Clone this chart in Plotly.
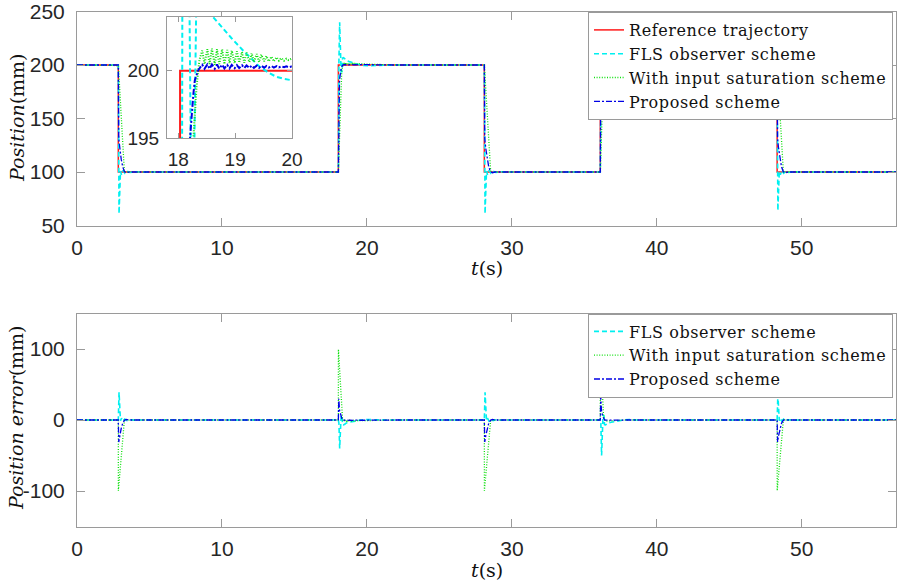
import plotly.graph_objects as go

W, H = 905, 583

# ---------------- data ----------------
# reference trajectory: step times and levels (held until next time)
ref_t = [0, 2.85, 18.03, 28.1, 36.1, 48.3, 56.5]
ref_y = [200, 100, 200, 100, 200, 100, 100]

# FLS observer scheme (cyan dashed)
fls_t = [0, 2.85, 2.90, 3.00, 3.07, 3.17, 3.30, 3.45, 3.65, 3.95, 4.40,
         18.03, 18.07, 18.12, 18.22, 18.28, 18.32, 18.39, 18.49, 18.59, 18.78,
         18.94, 19.13, 19.29, 19.43, 19.59, 19.72, 19.86, 19.99, 20.3, 20.7, 21.3, 22.0,
         28.1, 28.15, 28.25, 28.32, 28.42, 28.55, 28.70, 28.90, 29.20, 29.65,
         36.1, 36.14, 36.19, 36.29, 36.35, 36.39, 36.46, 36.56, 36.66, 36.85,
         37.2, 37.5, 37.8, 38.1, 38.6,
         48.3, 48.35, 48.45, 48.52, 48.62, 48.75, 48.90, 49.10, 49.40, 49.85, 56.5]
fls_y = [200, 200, 61, 101, 97.5, 101.5, 98.8, 100.8, 99.6, 100.2, 100,
         100, 205, 240, 193.5, 193.8, 206.5, 206.8, 205.6, 204.1, 203.16,
         202.4, 201.55, 200.9, 200.3, 199.85, 199.56, 199.4, 199.3, 199.3, 199.6, 199.9, 200,
         200, 61, 101, 97.5, 101.5, 98.8, 100.8, 99.6, 100.2, 100,
         100, 205, 250, 193.5, 193.8, 206.5, 206.8, 205.6, 204.1, 203.16,
         201.55, 200.3, 199.56, 199.3, 200,
         200, 64, 101, 97.5, 101.5, 98.8, 100.8, 99.6, 100.2, 100, 100]

# oscillation after the step at ~18 s (seen in the zoomed inset)
osc_t = [18.42, 18.46, 18.51, 18.55, 18.59, 18.64, 18.68, 18.72, 18.77, 18.81,
         18.86, 18.90, 18.94, 18.99, 19.03, 19.07, 19.12, 19.16, 19.20, 19.25,
         19.29, 19.33, 19.38, 19.42, 19.46, 19.51, 19.55, 19.59, 19.64, 19.68,
         19.73, 19.77, 19.81, 19.86, 19.90, 19.94, 19.99]
sat_osc = [201.5, 200.5, 201.6, 200.5, 201.65, 200.45, 201.6, 200.5, 201.6, 200.5,
           201.55, 200.55, 201.5, 200.55, 201.45, 200.6, 201.4, 200.6, 201.35, 200.65,
           201.3, 200.65, 201.25, 200.65, 201.2, 200.7, 201.1, 200.7, 201.05, 200.7,
           201.0, 200.75, 200.95, 200.75, 200.9, 200.8, 200.9]
prop_osc = [200.45, 200.15, 200.47, 200.15, 200.47, 200.15, 200.46, 200.16, 200.45, 200.17,
            200.44, 200.18, 200.43, 200.19, 200.42, 200.20, 200.41, 200.20, 200.40, 200.21,
            200.39, 200.22, 200.38, 200.22, 200.37, 200.23, 200.36, 200.24, 200.35, 200.24,
            200.35, 200.25, 200.34, 200.26, 200.33, 200.26, 200.32]

# With input saturation scheme (green dotted)
sat_t = ([0, 2.85, 2.855, 3.27, 3.37, 3.49, 3.69,
          18.03, 18.035, 18.265, 18.32, 18.37] + osc_t +
         [20.5, 21.2, 22.2,
          28.1, 28.105, 28.54, 28.64, 28.76, 28.96,
          36.1, 36.105, 36.325, 36.38, 36.43, 36.48, 36.8, 37.5, 38.3,
          48.3, 48.305, 48.73, 48.83, 48.95, 49.15, 56.5])
sat_y = ([200, 200, 199.5, 100, 99.4, 100.2, 100,
          100, 100.5, 195, 198.8, 200.8] + sat_osc +
         [200.6, 200.25, 200,
          200, 199.5, 100, 99.4, 100.2, 100,
          100, 100.5, 195, 198.8, 200.8, 201.5, 200.8, 200.3, 200,
          200, 199.5, 100, 99.4, 100.2, 100, 100])

# Proposed scheme (blue dash-dot)
prop_t = ([0, 2.85, 2.88, 2.95, 3.05, 3.15, 3.27, 3.40, 3.60,
           18.03, 18.06, 18.11, 18.205, 18.235, 18.265, 18.29, 18.35] + osc_t +
          [20.5, 21.3, 22.0,
           28.1, 28.13, 28.20, 28.30, 28.40, 28.52, 28.65, 28.85,
           36.1, 36.13, 36.18, 36.265, 36.35, 36.41, 36.6, 37.4, 37.9,
           48.3, 48.33, 48.40, 48.50, 48.60, 48.72, 48.85, 49.05, 56.5])
prop_y = ([200, 200, 131, 122, 112, 105, 100.5, 99.3, 100,
           100, 170, 186, 195, 197.1, 198.3, 199.3, 200.05] + prop_osc +
          [200.2, 200.05, 200,
           200, 131, 122, 112, 105, 100.5, 99.3, 100,
           100, 167, 186, 195, 199.3, 200.05, 200.3, 200.05, 200,
           200, 131, 122, 112, 105, 100.5, 99.3, 100, 100])

legend_names = ["Reference trajectory", "FLS observer scheme",
                "With input saturation scheme", "Proposed scheme"]

x_ticks = [0, 10, 20, 30, 40, 50]
pos_ticks = [50, 100, 150, 200, 250]
err_ticks = [-100, 0, 100]
err_ticktext = ["-100", "0", "100"]
inset_xticks = [18, 19, 20]
inset_yticks = [195, 200]


def ref_at(t):
    v = ref_y[0]
    for tt, yy in zip(ref_t, ref_y):
        if tt < t:
            v = yy
    return v


def error(ts, ys):
    return [ref_at(t) - y for t, y in zip(ts, ys)]


def spaced(s):
    return '<span style="letter-spacing:0.6px">' + s + '</span>'


# ---------------- styles ----------------
RED = "#ff1a1a"
CYAN = "#00f0f0"
GREEN = "#10e010"
BLUE = "#0000e6"
styles = [
    dict(color=RED, width=1.5),
    dict(color=CYAN, width=1.6, dash="5px,3px"),
    dict(color=GREEN, width=1.3, dash="1px,1.6px"),
    dict(color=BLUE, width=1.3, dash="6px,2px,2px,2px"),
]

fig = go.Figure()

series = [(ref_t, ref_y), (fls_t, fls_y), (sat_t, sat_y), (prop_t, prop_y)]

# top panel
for i, (tx, ty) in enumerate(series):
    fig.add_trace(go.Scatter(
        x=tx, y=ty, mode="lines", name=spaced(legend_names[i]), line=styles[i],
        line_shape="hv" if i == 0 else "linear",
        xaxis="x", yaxis="y", legend="legend"))

# bottom panel (error = reference - position)
for i, (tx, ty) in enumerate(series[1:], start=1):
    fig.add_trace(go.Scatter(
        x=tx, y=error(tx, ty), mode="lines", name=spaced(legend_names[i]), line=styles[i],
        xaxis="x2", yaxis="y2", legend="legend2"))

# inset
for i, (tx, ty) in enumerate(series):
    fig.add_trace(go.Scatter(
        x=tx, y=ty, mode="lines", name=legend_names[i], line=dict(styles[i], width=2),
        line_shape="hv" if i == 0 else "linear",
        xaxis="x3", yaxis="y3", showlegend=False))

AX = "#9a9a9a"
TICKFONT = dict(family="Liberation Sans, Arial, sans-serif", size=21, color="#262626")
common = dict(showgrid=False, zeroline=False, showline=True, linecolor=AX, linewidth=1,
              mirror="ticks", ticks="inside", ticklen=8, tickcolor=AX, tickwidth=1,
              tickfont=TICKFONT, automargin=False, ticklabeloverflow="allow")
INSET_FONT = dict(TICKFONT, size=19)

SERIF = "DejaVu Serif, serif"
x0, x1 = 77 / W, 896 / W
fig.update_layout(
    width=W, height=H, margin=dict(l=0, r=0, t=0, b=0, autoexpand=False),
    paper_bgcolor="white", plot_bgcolor="white",
    xaxis=dict(common, domain=[x0, x1], range=[0, 56.5], tickvals=x_ticks, anchor="y",
               ticklabelstandoff=3),
    yaxis=dict(common, domain=[1 - 225.5 / H, 1 - 11.5 / H], range=[50, 250],
               tickvals=pos_ticks, anchor="x", ticklabelstandoff=7),
    xaxis2=dict(common, domain=[x0, x1], range=[0, 56.5], tickvals=x_ticks, anchor="y2",
                ticklabelstandoff=3),
    yaxis2=dict(common, domain=[1 - 526.5 / H, 1 - 313.5 / H], range=[-150, 150],
                tickvals=err_ticks, ticktext=err_ticktext, anchor="x2", ticklabelstandoff=7),
    xaxis3=dict(common, domain=[167 / W, 292 / W], range=[17.8, 20], tickvals=inset_xticks,
                anchor="y3", ticklen=5, tickfont=INSET_FONT, ticklabelstandoff=4),
    yaxis3=dict(common, domain=[1 - 138 / H, 1 - 17 / H], range=[195, 204],
                tickvals=inset_yticks, anchor="x3", ticklen=5, tickfont=INSET_FONT,
                ticklabelstandoff=3),
    legend=dict(x=893 / W, xanchor="right", y=1 - 12 / H, yanchor="top",
                bgcolor="white", bordercolor=AX, borderwidth=1,
                font=dict(family=SERIF, size=16, color="#111"),
                tracegroupgap=0),
    legend2=dict(x=893 / W, xanchor="right", y=1 - 313.5 / H, yanchor="top",
                 bgcolor="white", bordercolor=AX, borderwidth=1,
                 font=dict(family=SERIF, size=16, color="#111"),
                 tracegroupgap=0),
    showlegend=True,
)

TITLEFONT = dict(family=SERIF, size=19, color="#111")
fig.add_annotation(text="<i>Position</i>(mm)", x=17 / W, y=1 - 118 / H, xref="paper", yref="paper",
                   xanchor="center", yanchor="middle",
                   showarrow=False, textangle=-90, font=TITLEFONT)
fig.add_annotation(text="<i>Position error</i>(mm)", x=16 / W, y=1 - 418 / H, xref="paper",
                   yref="paper", xanchor="center", yanchor="middle",
                   showarrow=False, textangle=-90, font=TITLEFONT)
fig.add_annotation(text="<i>t</i>(s)", x=(x0 + x1) / 2, y=1 - 268 / H, xref="paper", yref="paper",
                   xanchor="center", yanchor="middle", showarrow=False, font=TITLEFONT)
fig.add_annotation(text="<i>t</i>(s)", x=(x0 + x1) / 2, y=1 - 570 / H, xref="paper", yref="paper",
                   xanchor="center", yanchor="middle", showarrow=False, font=TITLEFONT)

fig.write_html("out.html", config={"displayModeBar": False},
               post_script="document.body.style.margin='0';document.body.style.overflow='hidden';")
